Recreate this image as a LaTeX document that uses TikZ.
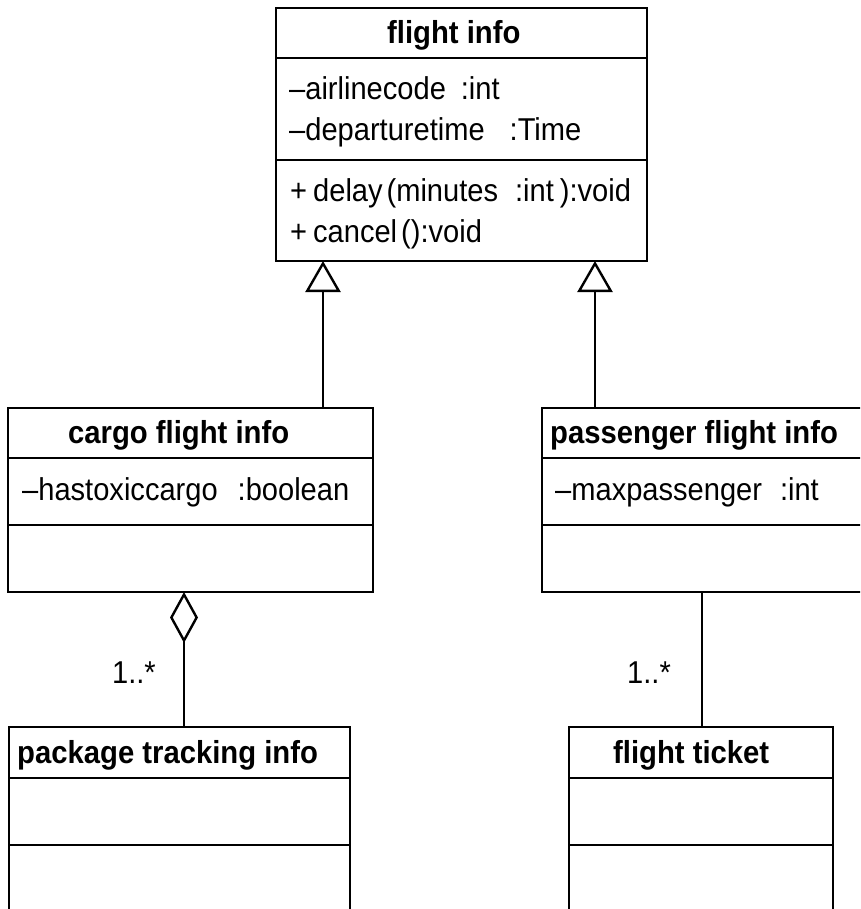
\documentclass[tikz,border=0pt]{standalone}
\usepackage{fontspec}
\setmainfont{Liberation Sans}[FakeStretch=0.92]
\usetikzlibrary{arrows.meta}

\tikzset{
  umlbox/.style={draw, line width=2.6pt, inner sep=0pt, outer sep=0pt, anchor=north west},
  umltxt/.style={inner sep=0pt, anchor=base west, font=\fontsize{31.6}{36}\selectfont},
  umltitle/.style={umltxt, font=\fontsize{31.8}{36}\selectfont\bfseries},
  umlline/.style={line width=2.4pt},
  inherit/.style={umlline, -{Triangle[open, length=31pt, width=35pt]}},
  aggreg/.style={umlline, {Diamond[open, length=51pt, width=28pt]}-},
}

\begin{document}
\begin{tikzpicture}[x=1pt, y=-1pt]
\useasboundingbox (0,0) rectangle (860,909);
\clip (0,0) rectangle (860,909);

% class boxes (left / top / width / height)
\foreach \name/\x/\y/\w/\h in {info/276/8/371pt/253pt, cargo/8/408/365pt/184pt,
    pass/542/408/340pt/184pt, pkg/9/727/341pt/240pt, ticket/569/727/264pt/240pt} {
  \node[umlbox, minimum width=\w, minimum height=\h] (\name) at (\x,\y) {};
}

% compartment lines
\foreach \name/\ya/\yb in {info/58/160, cargo/458/525, pass/458/525,
    pkg/778/845, ticket/778/845} {
  \draw[umlline] (\name.west |- 0,\ya) -- (\name.east |- 0,\ya);
  \draw[umlline] (\name.west |- 0,\yb) -- (\name.east |- 0,\yb);
}

% class names
\node[umltitle] (infoT) at (387,44) {flight info};
\node[umltitle] (cargoT) at (68,443) {cargo flight info};
\node[umltitle] (passT) at (550,443) {passenger flight info};
\node[umltitle] (pkgT) at (17,763) {package tracking info};
\node[umltitle] (ticketT) at (613,763) {flight ticket};

% attributes and operations
\node[umltxt] (infoA1) at (289,100) {\textendash airlinecode\hspace{15pt}:int};
\node[umltxt] (infoA2) at (289,141) {\textendash departuretime\hspace{25pt}:Time};
\node[umltxt] (infoO1) at (290,202) {+\hspace{6pt}delay\hspace{4pt}(minutes\hspace{17pt}:int\hspace{6pt}):void};
\node[umltxt] (infoO2) at (290,242) {+\hspace{6pt}cancel\hspace{4pt}():void};
\node[umltxt] (cargoA) at (22,500) {\textendash hastoxiccargo\hspace{20pt}:boolean};
\node[umltxt] (passA) at (555,500) {\textendash maxpassenger\hspace{18pt}:int};

% connectors
\coordinate (genL) at (323,0);
\coordinate (genR) at (595,0);
\coordinate (aggX) at (184,0);
\coordinate (assX) at (702,0);
\draw[inherit] (cargo.north -| genL) -- (info.south -| genL);
\draw[inherit] (pass.north -| genR) -- (info.south -| genR);
\draw[aggreg] (cargo.south -| aggX) -- (pkg.north -| aggX);
\draw[umlline] (pass.south -| assX) -- (ticket.north -| assX);

% multiplicities
\node[umltxt, anchor=base east] (mulPkg) at (156,683) {1..*};
\node[umltxt, anchor=base east] (mulTicket) at (671,683) {1..*};

\end{tikzpicture}
\end{document}
